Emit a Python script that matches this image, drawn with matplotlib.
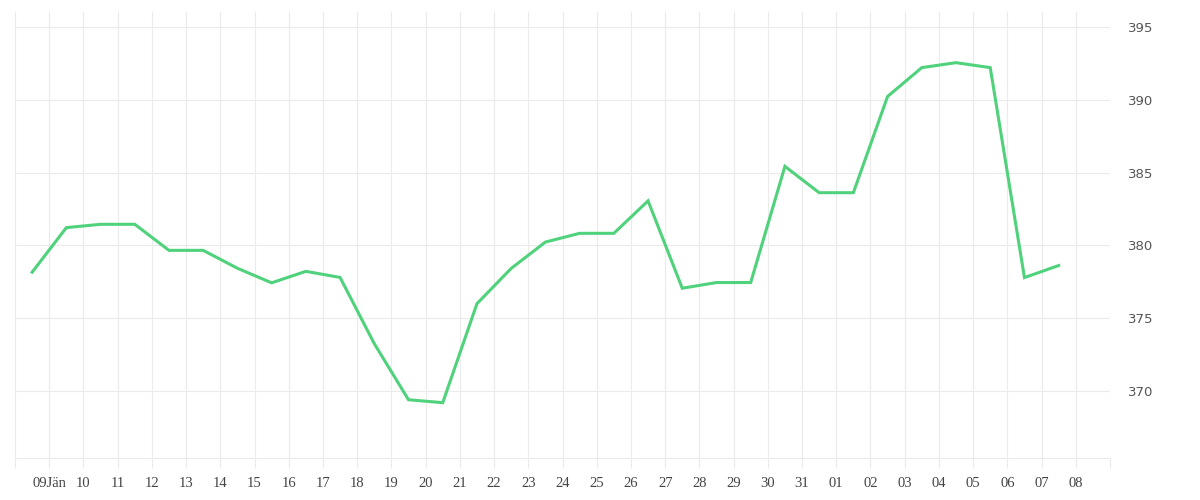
import matplotlib
matplotlib.use("Agg")
import matplotlib.pyplot as plt
import pandas as pd

# Data (daily values, plotted at midday)
start_date = "2024-01-08 12:00"
values = [378.16, 381.22, 381.45, 381.45, 379.66, 379.66, 378.43, 377.43,
          378.22, 377.80, 373.25, 369.40, 369.20, 376.00, 378.42, 380.23,
          380.83, 380.83, 383.06, 377.06, 377.45, 377.45, 385.43, 383.62,
          383.62, 390.23, 392.21, 392.55, 392.21, 377.79, 378.62]
tick_labels = ["", "09Jän", "10", "11", "12", "13", "14", "15", "16", "17",
               "18", "19", "20", "21", "22", "23", "24", "25", "26", "27",
               "28", "29", "30", "31", "01", "02", "03", "04", "05", "06",
               "07", "08", ""]
y_ticks = [370, 375, 380, 385, 390, 395]

dates = pd.date_range(start_date, periods=len(values), freq="D")
tick_dates = pd.date_range("2024-01-08", periods=len(tick_labels), freq="D")

grid_c = "#ebebeb"
line_c = "#4fd27b"

fig = plt.figure(figsize=(12, 5), dpi=100)
ax = fig.add_axes([15/1200, 42/500, (1110-15)/1200, (458-12)/500])

ax.plot(dates, values, color=line_c, linewidth=2.2, solid_joinstyle="miter", zorder=3)

ax.set_xlim(tick_dates[0], tick_dates[-1])
ax.set_ylim(365.4, 396.03)

ax.set_xticks(tick_dates)
ax.set_xticklabels(tick_labels, family=["Liberation Serif", "DejaVu Serif"],
                   fontsize=10.5, color="#444444")
ax.set_yticks(y_ticks)
ax.set_yticklabels([str(v) for v in y_ticks], family=["DejaVu Sans"],
                   fontsize=9.5, color="#555555")
ax.yaxis.tick_right()

ax.tick_params(axis="x", length=7.2, width=0.8, color=grid_c, pad=6.5)
ax.tick_params(axis="y", length=0, pad=13)

ax.grid(True, color=grid_c, linewidth=0.8, zorder=0)
ax.set_axisbelow(True)
for s in ["top", "left", "right"]:
    ax.spines[s].set_visible(False)
ax.spines["bottom"].set_color(grid_c)
ax.spines["bottom"].set_linewidth(0.8)

fig.savefig("out.png", dpi=100)
